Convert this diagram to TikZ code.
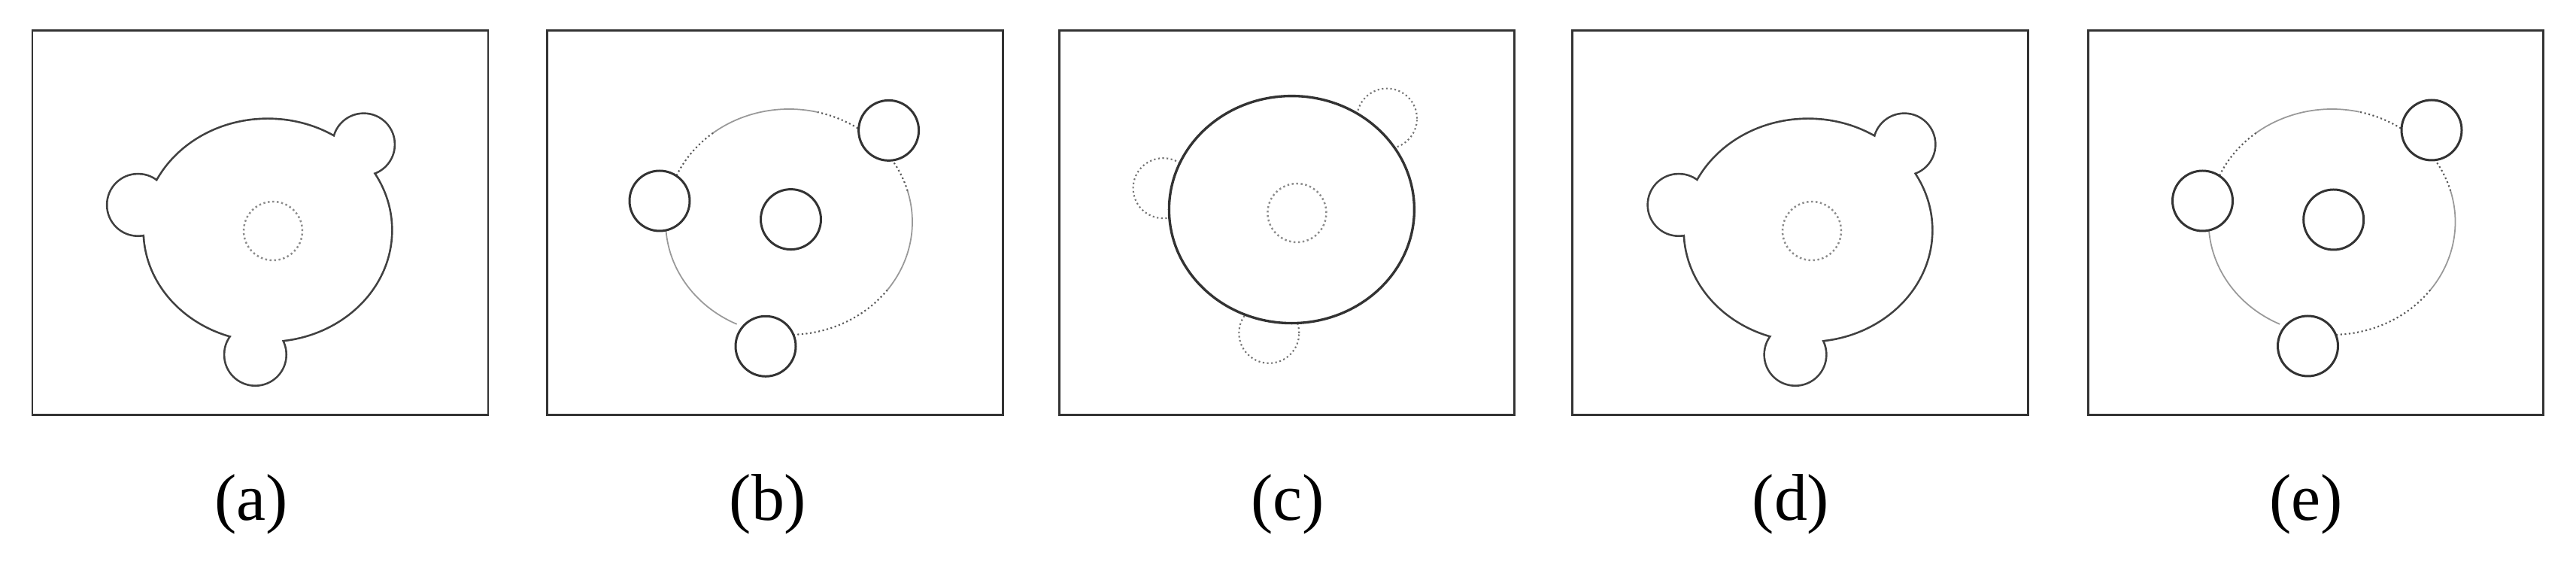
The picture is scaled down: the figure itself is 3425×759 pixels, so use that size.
\documentclass[tikz,border=0pt]{standalone}
\usepackage{fontspec}
\setmainfont{Liberation Serif}
\usepackage{tikz}

\begin{document}
\begin{tikzpicture}[x=0.1mm, y=0.1mm]
    \tikzstyle{frame}=[
        draw = black!80,
        line width = 0.85pt
    ]
    \tikzstyle{outline}=[
        draw = black!75,
        line width = 1.5pt
    ]
    \tikzstyle{core}=[
        draw = black!45,
        densely dotted,
        line width = 0.7pt
    ]
    \tikzstyle{ring}=[
        draw = black!80,
        fill = white,
        line width = 0.85pt
    ]
    \tikzstyle{rim}=[
        draw = black!80,
        fill = white,
        line width = 0.95pt
    ]
    \tikzstyle{track}=[
        draw = black!40,
        line width = 0.5pt
    ]
    \tikzstyle{track dots}=[
        draw = black!65,
        densely dotted,
        line width = 0.6pt
    ]
    \tikzstyle{ghost}=[
        draw = black!55,
        densely dotted,
        line width = 0.6pt
    ]
    \tikzstyle{caption}=[
        font = \fontsize{25}{30}\selectfont,
        anchor = base
    ]

    \useasboundingbox (0,0) rectangle (3425,759);

    % frames
    \draw[frame] (43,207)   rectangle (649,718);
    \draw[frame] (727,207)  rectangle (1333,718);
    \draw[frame] (1408,207) rectangle (2013,718);
    \draw[frame] (2090,207) rectangle (2696,718);
    \draw[frame] (2776,207) rectangle (3381,718);

    % (a) merged body
    \coordinate (a-c) at (356,453);
    \coordinate (a-i) at (363,452);
    \coordinate (a-l) at (183.5,486.6);
    \coordinate (a-t) at (483.6,567);
    \coordinate (a-b) at (339.4,287.6);
	\draw[outline] (a-c) ellipse[x radius=164, y radius=147] (a-l) circle[radius=40] (a-t) circle[radius=40] (a-b) circle[radius=40];
	\fill[white] (a-c) ellipse[x radius=164, y radius=147] (a-l) circle[radius=40] (a-t) circle[radius=40] (a-b) circle[radius=40];
	\draw[core] (a-i) circle[radius=39];

    % (b) split body
    \coordinate (b-c) at (1049,464);
    \coordinate (b-i) at (1051.5,467.4);
    \coordinate (b-l) at (877,492);
    \coordinate (b-t) at (1181.6,585.6);
    \coordinate (b-b) at (1018,298.7);
	\draw[track] (b-c) ++(180:164 and 150) arc[start angle=180, end angle=245, x radius=164, y radius=150];
	\draw[track] (b-c) ++(-37:164 and 150) arc[start angle=-37, end angle=16, x radius=164, y radius=150];
	\draw[track] (b-c) ++(77:164 and 150) arc[start angle=77, end angle=128, x radius=164, y radius=150];
	\draw[track dots] (b-c) ++(270:164 and 150) arc[start angle=270, end angle=323, x radius=164, y radius=150];
	\draw[track dots] (b-c) ++(16:164 and 150) arc[start angle=16, end angle=34, x radius=164, y radius=150];
	\draw[track dots] (b-c) ++(50:164 and 150) arc[start angle=50, end angle=77, x radius=164, y radius=150];
	\draw[track dots] (b-c) ++(128:164 and 150) arc[start angle=128, end angle=160, x radius=164, y radius=150];
	\draw[ring] (b-l) circle[radius=40] (b-t) circle[radius=40] (b-b) circle[radius=40];
	\draw[ring] (b-i) circle[radius=40];

    % (c) swallowed lobes
    \coordinate (c-c) at (1717.4,480.4);
    \coordinate (c-i) at (1724.4,476);
    \coordinate (c-l) at (1546.6,508.8);
    \coordinate (c-t) at (1844,601.4);
    \coordinate (c-b) at (1687.3,316.2);
	\draw[ghost] (c-l) circle[radius=40] (c-t) circle[radius=40] (c-b) circle[radius=40];
	\draw[rim] (c-c) ellipse[x radius=163, y radius=151];
	\draw[core] (c-i) circle[radius=39];

    % (d) merged body again
    \coordinate (d-c) at (2404,453);
    \coordinate (d-i) at (2409,452);
    \coordinate (d-l) at (2232,486.6);
    \coordinate (d-t) at (2532,567);
    \coordinate (d-b) at (2387,287.6);
	\draw[outline] (d-c) ellipse[x radius=164, y radius=147] (d-l) circle[radius=40] (d-t) circle[radius=40] (d-b) circle[radius=40];
	\fill[white] (d-c) ellipse[x radius=164, y radius=147] (d-l) circle[radius=40] (d-t) circle[radius=40] (d-b) circle[radius=40];
	\draw[core] (d-i) circle[radius=39];

    % (e) split body again
    \coordinate (e-c) at (3100.5,464);
    \coordinate (e-i) at (3102.7,467);
    \coordinate (e-l) at (2928.5,492);
    \coordinate (e-t) at (3233,586);
    \coordinate (e-b) at (3068.5,299);
	\draw[track] (e-c) ++(180:164 and 150) arc[start angle=180, end angle=245, x radius=164, y radius=150];
	\draw[track] (e-c) ++(-37:164 and 150) arc[start angle=-37, end angle=16, x radius=164, y radius=150];
	\draw[track] (e-c) ++(77:164 and 150) arc[start angle=77, end angle=128, x radius=164, y radius=150];
	\draw[track dots] (e-c) ++(270:164 and 150) arc[start angle=270, end angle=323, x radius=164, y radius=150];
	\draw[track dots] (e-c) ++(16:164 and 150) arc[start angle=16, end angle=34, x radius=164, y radius=150];
	\draw[track dots] (e-c) ++(50:164 and 150) arc[start angle=50, end angle=77, x radius=164, y radius=150];
	\draw[track dots] (e-c) ++(128:164 and 150) arc[start angle=128, end angle=160, x radius=164, y radius=150];
	\draw[ring] (e-l) circle[radius=40] (e-t) circle[radius=40] (e-b) circle[radius=40];
	\draw[ring] (e-i) circle[radius=40];

    % captions
	\node[caption] (cap-a) at (334,67)  {(a)};
	\node[caption] (cap-b) at (1021,67) {(b)};
	\node[caption] (cap-c) at (1712,67) {(c)};
	\node[caption] (cap-d) at (2381,67) {(d)};
	\node[caption] (cap-e) at (3066,67) {(e)};

\end{tikzpicture}
\end{document}
